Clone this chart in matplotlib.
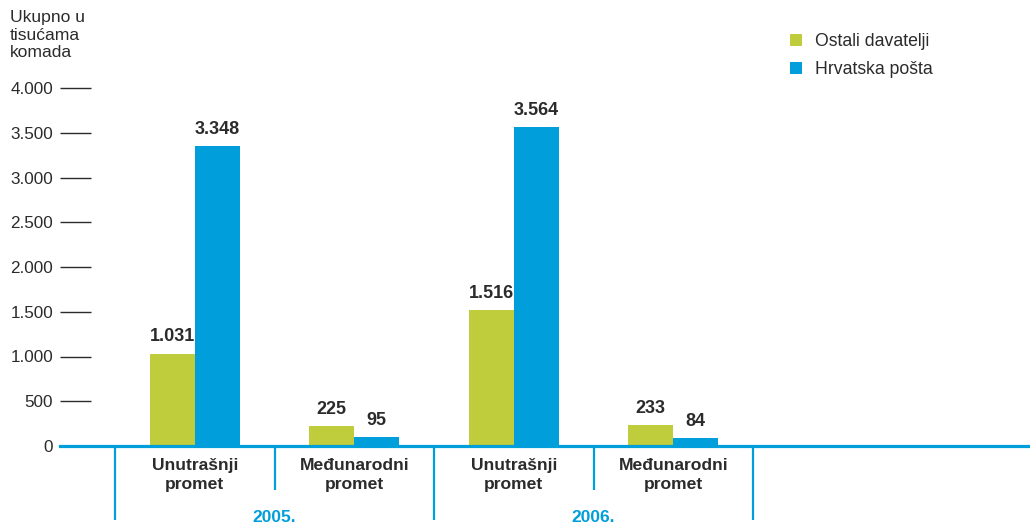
import matplotlib
matplotlib.use('Agg')
import matplotlib.pyplot as plt
import numpy as np

plt.rcParams['font.family'] = ['Liberation Sans', 'DejaVu Sans']

# podaci
categories = ['Unutrašnji\npromet', 'Međunarodni\npromet', 'Unutrašnji\npromet', 'Međunarodni\npromet']
years = ['2005.', '2006.']
ostali = [1031, 225, 1516, 233]
hp = [3348, 95, 3564, 84]
series_names = ['Ostali davatelji', 'Hrvatska pošta']
yticks = [0, 500, 1000, 1500, 2000, 2500, 3000, 3500, 4000]

green = '#BFCC3B'
blue = '#009EDB'
dark = '#2b2b2b'


def fmt(v):
    return '{:,}'.format(v).replace(',', '.')


fig = plt.figure(figsize=(10.3, 5.27), dpi=100)
ax = fig.add_axes([60 / 1030, 81 / 527, 968 / 1030, 358 / 527])

x = np.arange(len(categories))
w = 0.282
b1 = ax.bar(x - w / 2, ostali, w, color=green, label=series_names[0])
b2 = ax.bar(x + w / 2, hp, w, color=blue, label=series_names[1])

for bars, vals in [(b1, ostali), (b2, hp)]:
    for r, v in zip(bars, vals):
        ax.annotate(fmt(v), (r.get_x() + r.get_width() / 2, v), xytext=(0, 6),
                    textcoords='offset points', ha='center', va='bottom',
                    fontsize=13, fontweight='bold', color=dark)

ax.set_xlim(-0.8455, 5.2235)
ax.set_ylim(0, 4000)

for s in ['top', 'right', 'left']:
    ax.spines[s].set_visible(False)
ax.spines['bottom'].set_color(blue)
ax.spines['bottom'].set_linewidth(2.3)

ax.set_xticks([])
ax.set_yticks(yticks)
ax.set_yticklabels([fmt(t) for t in yticks])
ax.tick_params(axis='y', direction='in', length=22.5, width=1.0, color=dark,
               pad=5, labelsize=12.3, labelcolor=dark)

# separatori ispod osi
for i, sx in enumerate(np.arange(len(categories) + 1) - 0.5):
    bottom = -830 if i % 2 == 0 else -490
    ax.plot([sx, sx], [0, bottom], color=blue, lw=1.6, clip_on=False,
            solid_capstyle='butt')

for i, c in enumerate(categories):
    ax.text(i, -130, c, ha='center', va='top', fontsize=12.6,
            fontweight='bold', color=dark, linespacing=1.38)

for j, y in enumerate(years):
    ax.text(2 * j + 0.5, -800, y, ha='center', va='center', fontsize=12.5,
            fontweight='bold', color=blue)

fig.text(10 / 1030, 1 - 10 / 527, 'Ukupno u\ntisućama\nkomada', ha='left', va='top',
         fontsize=12.6, color=dark, linespacing=1.22)

fig.legend(handles=[b1, b2], loc='upper left', bbox_to_anchor=(774 / 1030, 1 - 17 / 527),
           frameon=False, fontsize=12.7, handlelength=0.7, handleheight=0.7,
           labelspacing=0.65, handletextpad=0.75, labelcolor=dark)

fig.savefig('out.png', dpi=100)
